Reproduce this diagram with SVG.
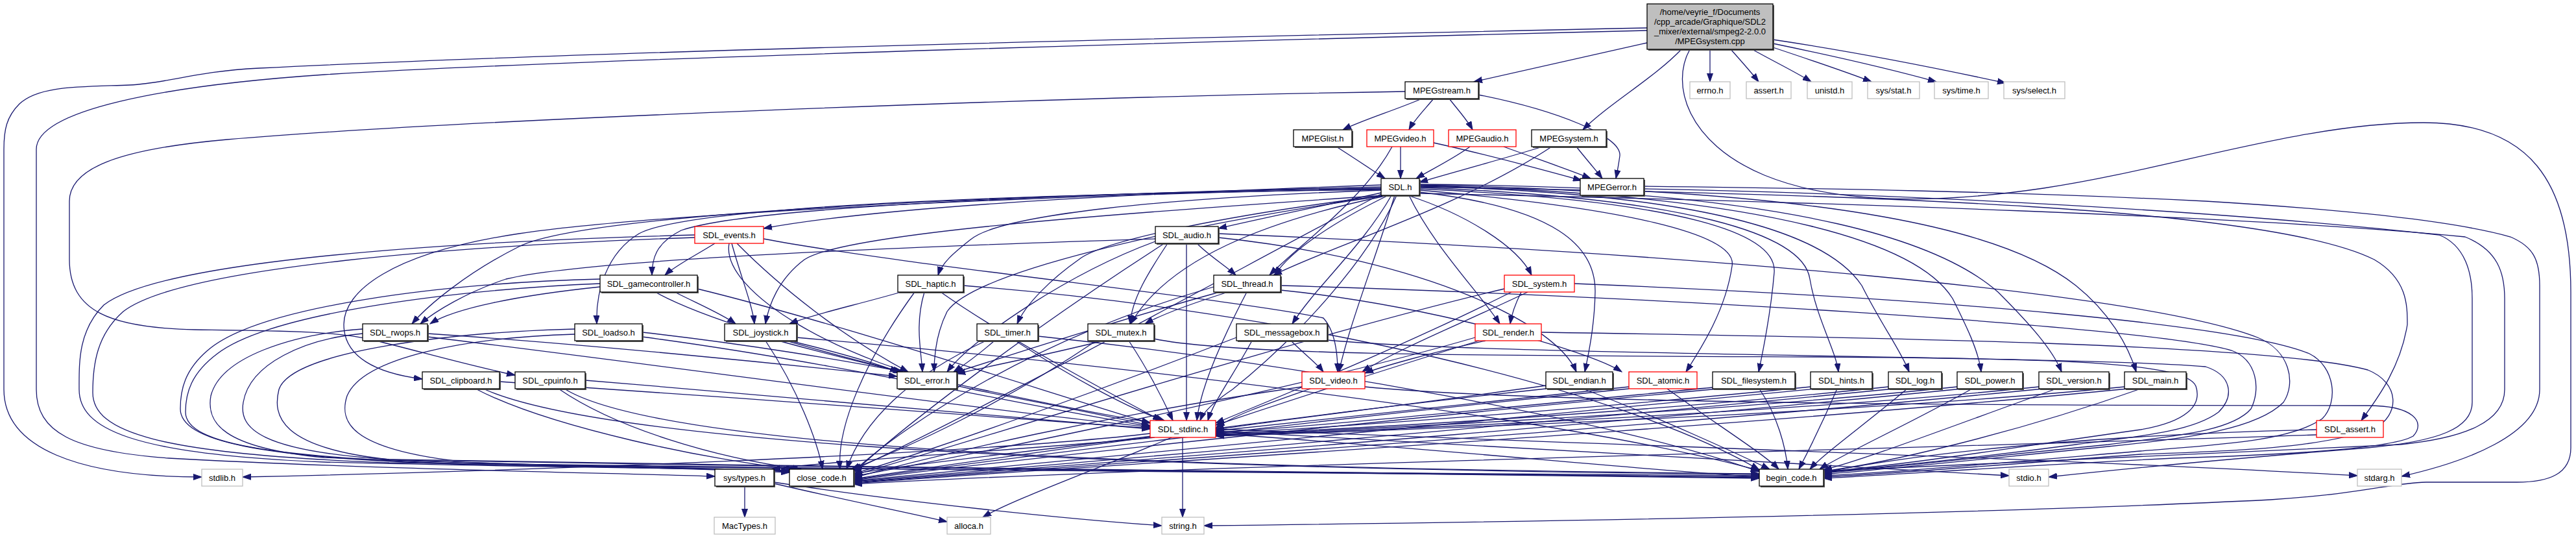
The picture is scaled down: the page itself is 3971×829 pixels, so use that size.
<svg xmlns="http://www.w3.org/2000/svg" width="3971" height="829" viewBox="0 0 3971 829">
<style>
text{font-family:"Liberation Sans",Arial,Helvetica,sans-serif;font-size:13px;text-anchor:middle;fill:#000}
.b{fill:#fff;stroke-width:1.3}
.k{stroke:#000}
.r{stroke:#ff0000}
.g{stroke:#bfbfbf}
.sh{fill:#555;stroke:none}
#edges path{fill:none;stroke:#191970;stroke-width:1.3;marker-end:url(#a)}
</style>
<defs>
<marker id="a" markerUnits="userSpaceOnUse" markerWidth="14" markerHeight="10" refX="13" refY="5" orient="auto"><path d="M0,0.5L13,5L0,9.5z" fill="#191970" stroke="#191970" stroke-width="1"/></marker>
</defs>
<rect width="3971" height="829" fill="#fff"/>
<g id="edges">
<path d="M2539,66 C2440,88 2340,110 2272,126"/>
<path d="M2592,76 C2550,120 2480,160 2440,200"/>
<path d="M2636,76 L2636,126"/>
<path d="M2668,76 C2685,95 2700,112 2711,126"/>
<path d="M2701,76 C2735,95 2770,112 2792,126"/>
<path d="M2733,73 C2790,92 2850,112 2885,126"/>
<path d="M2733,67 C2820,85 2920,108 2985,126"/>
<path d="M2733,61 C2860,80 3000,108 3092,128"/>
<path d="M2539,43 C2100,52 1000,75 400,105 C300,110 260,128 200,131 C120,134 60,132 30,160 C10,180 6,200 6,230 L6,600 C6,690 120,735 311,735"/>
<path d="M2539,47 C2000,60 900,90 500,115 C250,132 56,170 56,230 L56,600 C56,665 110,695 260,706 C550,722 900,728 1102,734"/>
<path d="M2605,76 C2575,130 2600,220 2720,270 C2830,315 2980,315 3150,290 C3350,260 3550,189 3736,189 C3900,189 3963,280 3963,450 L3963,690 C3963,730 3930,743 3880,743 L3740,743 C3680,745 3650,760 3500,770 C3000,795 2200,806 1856,810"/>
<path d="M2192,152 C2150,170 2100,185 2070,200"/>
<path d="M2210,152 C2195,170 2180,185 2172,200"/>
<path d="M2234,152 C2248,170 2262,185 2270,200"/>
<path d="M2279,146 C2400,170 2500,210 2497,240 C2495,255 2493,265 2491,275"/>
<path d="M2166,141 C1600,150 700,185 350,215 C180,230 107,260 107,310 L107,400 C107,480 170,505 300,508 C450,510 520,510 580,525 C660,545 730,565 794,578"/>
<path d="M2060,226 C2090,245 2115,262 2135,275"/>
<path d="M2159,226 L2159,275"/>
<path d="M2210,220 C2300,240 2380,262 2438,278"/>
<path d="M2146,226 C2100,310 2000,380 1957,424"/>
<path d="M2266,226 C2240,245 2205,262 2183,275"/>
<path d="M2318,226 C2370,245 2420,262 2452,275"/>
<path d="M2378,226 C2300,250 2230,268 2188,281"/>
<path d="M2392,226 C2250,320 2050,380 1963,424"/>
<path d="M2430,226 C2445,245 2460,262 2470,275"/>
<path d="M2534,287 C2800,290 3100,295 3400,310 C3650,325 3800,345 3870,365 C3905,380 3915,400 3915,440 L3915,600 C3915,670 3800,712 3702,734"/>
<path d="M2534,291 C2900,298 3400,322 3760,362 C3800,378 3811,420 3811,460 L3811,620 C3811,660 3760,680 3650,690 C3400,710 3250,725 3158,735"/>
<path d="M2129,285 C1700,300 1350,320 1177,352"/>
<path d="M2129,297 C2050,315 1950,335 1878,352"/>
<path d="M2129,288 C1600,300 1150,320 1050,355 C1010,375 1005,400 1005,424"/>
<path d="M2129,293 C1800,305 1540,330 1495,370 C1470,390 1452,405 1446,424"/>
<path d="M2140,301 C2060,340 1990,385 1965,424"/>
<path d="M2170,301 C2260,330 2340,380 2361,424"/>
<path d="M2129,290 C1500,300 900,330 800,380 C720,420 660,470 635,499"/>
<path d="M2129,292 C1500,300 1060,320 985,360 C935,390 918,450 920,499"/>
<path d="M2134,301 C1700,330 1300,360 1240,400 C1200,430 1185,470 1180,499"/>
<path d="M2136,301 C1900,330 1700,370 1663,400 C1620,430 1580,470 1568,499"/>
<path d="M2140,301 C1950,340 1800,400 1743,499"/>
<path d="M2145,301 C2100,380 2030,440 1992,499"/>
<path d="M2172,301 C2210,380 2280,450 2312,499"/>
<path d="M2129,291 C1600,300 1000,330 800,360 C600,390 530,450 530,500 C530,550 580,575 651,584"/>
<path d="M2138,301 C1800,350 1500,420 1460,480 C1445,510 1440,545 1440,573"/>
<path d="M2150,301 C2120,400 2080,500 2064,573"/>
<path d="M2188,296 C2400,320 2460,380 2459,450 C2458,500 2450,540 2443,573"/>
<path d="M2188,293 C2500,320 2680,360 2670,410 C2660,480 2620,540 2599,573"/>
<path d="M2188,291 C2600,310 2740,360 2735,420 C2730,480 2718,540 2711,573"/>
<path d="M2188,289 C2600,305 2780,360 2790,430 C2800,490 2830,540 2834,573"/>
<path d="M2188,287 C2700,300 2830,380 2870,440 C2900,500 2930,540 2943,573"/>
<path d="M2188,286 C2750,300 2960,380 3010,460 C3030,500 3050,540 3054,573"/>
<path d="M2188,285 C2800,295 3000,380 3080,450 C3130,500 3165,540 3178,573"/>
<path d="M2188,284 C2850,290 3100,360 3200,440 C3250,480 3280,530 3293,573"/>
<path d="M2188,288 C2900,300 3500,320 3660,400 C3711,430 3711,470 3711,500 C3700,570 3660,620 3640,648"/>
<path d="M2153,301 C2110,400 2000,520 1900,600 C1870,620 1855,635 1850,648"/>
<path d="M2188,298 C2800,310 3500,335 3800,365 C3850,385 3861,420 3861,460 L3861,600 C3861,650 3800,675 3700,685 C3300,705 2950,720 2811,726"/>
<path d="M2129,299 C1900,420 1500,640 1316,724"/>
<path d="M1102,375 C1070,395 1040,410 1025,424"/>
<path d="M1128,375 C1140,420 1160,470 1163,499"/>
<path d="M1136,375 C1200,440 1300,520 1400,573"/>
<path d="M1177,368 C1400,410 1900,460 2040,490 C2058,510 2062,545 2062,573"/>
<path d="M1124,375 C1110,450 1300,560 1500,600 C1650,630 1730,645 1773,656"/>
<path d="M1071,362 C700,372 250,400 160,470 C120,510 122,560 122,600 C122,660 200,700 500,712 C900,722 1150,722 1217,725"/>
<path d="M1071,366 C720,378 280,410 190,480 C150,515 143,560 143,605 C143,665 240,700 600,713 C1200,725 2300,728 2712,733"/>
<path d="M925,442 C800,455 700,475 663,499"/>
<path d="M1040,450 C1080,470 1115,485 1134,499"/>
<path d="M1010,450 C1100,500 1300,550 1390,573"/>
<path d="M1075,445 C1300,500 1600,600 1773,652"/>
<path d="M925,430 C700,435 400,470 320,540 C285,570 278,600 278,630 C278,680 400,705 700,715 C1000,722 1150,722 1217,727"/>
<path d="M925,437 C720,445 420,480 335,545 C295,575 286,605 286,635 C286,685 420,708 800,717 C1500,725 2300,730 2712,735"/>
<path d="M659,514 C900,530 1200,560 1383,580"/>
<path d="M659,519 C1000,560 1500,630 1773,658"/>
<path d="M559,507 C450,515 340,550 325,610 C318,650 340,690 500,705 C800,718 1100,720 1217,726"/>
<path d="M559,514 C470,522 385,560 375,620 C368,660 400,695 600,708 C1400,722 2400,730 2712,736"/>
<path d="M990,512 C1150,530 1300,555 1392,573"/>
<path d="M990,519 C1300,560 1600,630 1773,657"/>
<path d="M886,507 C700,512 450,540 430,600 C420,640 430,690 600,708 C900,720 1100,722 1217,728"/>
<path d="M886,515 C720,520 560,550 535,610 C522,650 540,690 700,710 C1500,725 2400,732 2712,737"/>
<path d="M770,588 C1100,610 1500,640 1773,660"/>
<path d="M733,599 C850,660 1100,710 1225,723"/>
<path d="M745,599 C900,670 1500,720 2712,731"/>
<path d="M902,586 C1200,610 1500,640 1773,661"/>
<path d="M861,599 C950,660 1100,705 1235,723"/>
<path d="M870,599 C1000,680 1600,720 2712,730"/>
<path d="M1217,525 C1300,545 1350,560 1385,573"/>
<path d="M1200,525 C1400,580 1650,630 1773,651"/>
<path d="M1180,525 C1230,600 1260,680 1268,723"/>
<path d="M1228,520 C1700,560 2400,640 2712,725"/>
<path d="M1389,450 C1320,470 1250,485 1217,499"/>
<path d="M1425,450 C1410,500 1420,540 1422,573"/>
<path d="M1450,450 C1550,520 1700,600 1790,648"/>
<path d="M1410,450 C1330,560 1290,660 1295,723"/>
<path d="M1485,440 C2000,480 2500,600 2712,724"/>
<path d="M1533,525 C1510,545 1490,560 1470,573"/>
<path d="M1565,525 C1650,580 1740,630 1795,648"/>
<path d="M1520,525 C1400,580 1330,650 1305,723"/>
<path d="M1600,518 C2000,560 2500,650 2712,727"/>
<path d="M1701,525 C1600,550 1520,565 1475,576"/>
<path d="M1740,525 C1770,570 1795,620 1808,648"/>
<path d="M1690,525 C1550,620 1400,690 1312,723"/>
<path d="M1779,522 C1900,548 2300,548 2800,550 C3200,552 3370,560 3385,595 C3395,625 3370,650 3300,662 C3100,690 2950,715 2811,727"/>
<path d="M1893,450 C1830,470 1790,485 1765,499"/>
<path d="M1880,450 C1700,500 1550,550 1472,574"/>
<path d="M1974,447 C2200,470 2450,540 2500,573"/>
<path d="M1922,450 C1880,530 1850,600 1845,648"/>
<path d="M1871,442 C1600,520 1400,650 1316,726"/>
<path d="M1974,440 C2500,455 3300,500 3440,540 C3480,555 3485,600 3470,630 C3440,665 3350,672 3250,685 C3050,705 2900,722 2811,729"/>
<path d="M1781,372 C1650,420 1500,520 1460,573"/>
<path d="M1878,366 C2200,400 2400,500 2430,573"/>
<path d="M1800,375 C1770,420 1745,460 1742,499"/>
<path d="M1845,375 C1865,395 1890,410 1905,424"/>
<path d="M1781,368 C1400,380 900,400 780,430 C720,450 670,480 648,499"/>
<path d="M1829,375 L1829,648"/>
<path d="M1795,375 C1600,500 1400,650 1316,728"/>
<path d="M1878,360 C2600,390 3300,450 3480,520 C3530,540 3540,590 3520,620 C3480,660 3380,675 3250,688 C3050,708 2900,724 2811,731"/>
<path d="M1990,525 C2010,545 2030,560 2040,573"/>
<path d="M1930,525 C1900,580 1870,620 1862,648"/>
<path d="M1906,520 C1700,600 1450,690 1316,730"/>
<path d="M2046,524 C2300,548 3200,548 3400,565 C3440,578 3445,610 3420,635 C3380,665 3300,672 3200,685 C3050,705 2900,720 2811,728"/>
<path d="M2345,450 C2335,470 2330,485 2328,499"/>
<path d="M2355,450 C2250,500 2150,540 2100,573"/>
<path d="M2330,450 C2150,540 1950,620 1874,652"/>
<path d="M2319,445 C2000,520 1500,680 1316,732"/>
<path d="M2427,437 C3000,460 3450,500 3560,545 C3600,565 3605,620 3580,645 C3530,680 3420,685 3300,695 C3100,712 2920,728 2811,733"/>
<path d="M2290,525 C2200,545 2130,565 2104,575"/>
<path d="M2280,525 C2100,580 1950,630 1874,655"/>
<path d="M2274,520 C2000,600 1500,700 1316,734"/>
<path d="M2376,512 C2900,520 3500,530 3650,570 C3700,590 3700,640 3660,660 C3580,690 3450,695 3300,700 C3100,715 2920,730 2811,735"/>
<path d="M2020,599 C1960,620 1900,640 1874,660"/>
<path d="M2007,596 C1700,640 1450,700 1316,736"/>
<path d="M2104,596 C2400,625 3300,625 3650,625 C3720,625 3740,650 3720,672 C3690,690 3550,700 3350,706 C3100,718 2920,732 2811,737"/>
<path d="M2383,594 C2200,620 1950,650 1874,662"/>
<path d="M2383,599 C2000,640 1500,710 1316,738"/>
<path d="M2440,599 C2550,640 2680,700 2728,723"/>
<path d="M2511,596 C2200,630 1950,655 1874,664"/>
<path d="M2511,599 C2000,650 1500,712 1316,739"/>
<path d="M2570,599 C2640,650 2720,700 2742,723"/>
<path d="M2640,597 C2300,630 2000,660 1874,666"/>
<path d="M2650,599 C2100,650 1500,715 1316,740"/>
<path d="M2712,599 C2740,640 2753,690 2756,723"/>
<path d="M2791,596 C2400,635 2000,662 1874,668"/>
<path d="M2800,599 C2200,655 1600,716 1316,741"/>
<path d="M2832,599 C2810,650 2785,700 2773,723"/>
<path d="M2911,596 C2500,640 2000,665 1874,669"/>
<path d="M2920,599 C2300,660 1600,718 1316,742"/>
<path d="M2940,599 C2880,650 2810,700 2790,723"/>
<path d="M3017,596 C2600,640 2000,666 1874,670"/>
<path d="M3025,599 C2400,662 1600,720 1316,743"/>
<path d="M3040,599 C2950,650 2840,700 2805,723"/>
<path d="M3143,596 C2700,642 2000,667 1874,671"/>
<path d="M3150,599 C2500,664 1600,721 1316,744"/>
<path d="M3170,599 C3000,660 2870,710 2811,724"/>
<path d="M3275,596 C2800,643 2000,668 1874,672"/>
<path d="M3280,599 C2600,666 1600,722 1316,745"/>
<path d="M3300,599 C3100,670 2900,715 2811,726"/>
<path d="M3571,662 C3300,668 3000,690 2811,728"/>
<path d="M3571,670 C3000,690 1800,718 1316,746"/>
<path d="M1773,668 C1500,700 800,726 374,735"/>
<path d="M1780,674 C1600,692 1300,708 1190,723"/>
<path d="M1775,672 C1600,695 1400,715 1316,730"/>
<path d="M1874,668 C2200,690 2550,726 2712,735"/>
<path d="M1874,664 C2400,690 2900,722 3097,733"/>
<path d="M1874,661 C2500,686 3200,708 3634,733"/>
<path d="M1823,674 L1823,797"/>
<path d="M1806,674 C1700,720 1560,770 1515,797"/>
<path d="M1148,749 L1148,797"/>
<path d="M1193,745 C1300,770 1400,790 1460,804"/>
<path d="M1193,743 C1400,775 1650,800 1791,810"/>
</g>
<g id="n_main"><rect class="sh" x="2541" y="8" width="194" height="70"/><rect class="b k" x="2539" y="6" width="194" height="70" style="fill:#bfbfbf"/><text x="2636" y="22.5">/home/veyrie_f/Documents</text><text x="2636" y="37.5">/cpp_arcade/Graphique/SDL2</text><text x="2636" y="52.5">_mixer/external/smpeg2-2.0.0</text><text x="2636" y="67.5">/MPEGsystem.cpp</text></g>
<g id="n_MPEGstream"><rect class="sh" x="2168" y="128" width="113" height="26"/><rect class="b k" x="2166" y="126" width="113" height="26"/><text x="2222.5" y="143.5">MPEGstream.h</text></g>
<g id="n_errno"><rect class="b g" x="2605" y="126" width="62" height="26"/><text x="2636" y="143.5">errno.h</text></g>
<g id="n_assert"><rect class="b g" x="2692" y="126" width="69" height="26"/><text x="2726.5" y="143.5">assert.h</text></g>
<g id="n_unistd"><rect class="b g" x="2786" y="126" width="69" height="26"/><text x="2820.5" y="143.5">unistd.h</text></g>
<g id="n_sysstat"><rect class="b g" x="2879" y="126" width="80" height="26"/><text x="2919" y="143.5">sys/stat.h</text></g>
<g id="n_systime"><rect class="b g" x="2982" y="126" width="83" height="26"/><text x="3023.5" y="143.5">sys/time.h</text></g>
<g id="n_sysselect"><rect class="b g" x="3089" y="126" width="94" height="26"/><text x="3136" y="143.5">sys/select.h</text></g>
<g id="n_MPEGlist"><rect class="sh" x="1996" y="202" width="90" height="26"/><rect class="b k" x="1994" y="200" width="90" height="26"/><text x="2039" y="217.5">MPEGlist.h</text></g>
<g id="n_MPEGvideo"><rect class="b r" x="2107" y="200" width="103" height="26"/><text x="2158.5" y="217.5">MPEGvideo.h</text></g>
<g id="n_MPEGaudio"><rect class="b r" x="2233" y="200" width="104" height="26"/><text x="2285" y="217.5">MPEGaudio.h</text></g>
<g id="n_MPEGsystem"><rect class="sh" x="2363" y="202" width="115" height="26"/><rect class="b k" x="2361" y="200" width="115" height="26"/><text x="2418.5" y="217.5">MPEGsystem.h</text></g>
<g id="n_SDL"><rect class="sh" x="2131" y="277" width="59" height="26"/><rect class="b k" x="2129" y="275" width="59" height="26"/><text x="2158.5" y="292.5">SDL.h</text></g>
<g id="n_MPEGerror"><rect class="sh" x="2438" y="277" width="98" height="26"/><rect class="b k" x="2436" y="275" width="98" height="26"/><text x="2485" y="292.5">MPEGerror.h</text></g>
<g id="n_events"><rect class="b r" x="1071" y="349" width="106" height="26"/><text x="1124" y="366.5">SDL_events.h</text></g>
<g id="n_audio"><rect class="sh" x="1783" y="351" width="97" height="26"/><rect class="b k" x="1781" y="349" width="97" height="26"/><text x="1829.5" y="366.5">SDL_audio.h</text></g>
<g id="n_gamecontroller"><rect class="sh" x="927" y="426" width="150" height="26"/><rect class="b k" x="925" y="424" width="150" height="26"/><text x="1000" y="441.5">SDL_gamecontroller.h</text></g>
<g id="n_haptic"><rect class="sh" x="1386" y="426" width="101" height="26"/><rect class="b k" x="1384" y="424" width="101" height="26"/><text x="1434.5" y="441.5">SDL_haptic.h</text></g>
<g id="n_thread"><rect class="sh" x="1873" y="426" width="103" height="26"/><rect class="b k" x="1871" y="424" width="103" height="26"/><text x="1922.5" y="441.5">SDL_thread.h</text></g>
<g id="n_system"><rect class="b r" x="2319" y="424" width="108" height="26"/><text x="2373" y="441.5">SDL_system.h</text></g>
<g id="n_rwops"><rect class="sh" x="561" y="501" width="100" height="26"/><rect class="b k" x="559" y="499" width="100" height="26"/><text x="609" y="516.5">SDL_rwops.h</text></g>
<g id="n_loadso"><rect class="sh" x="888" y="501" width="104" height="26"/><rect class="b k" x="886" y="499" width="104" height="26"/><text x="938" y="516.5">SDL_loadso.h</text></g>
<g id="n_joystick"><rect class="sh" x="1119" y="501" width="111" height="26"/><rect class="b k" x="1117" y="499" width="111" height="26"/><text x="1172.5" y="516.5">SDL_joystick.h</text></g>
<g id="n_timer"><rect class="sh" x="1508" y="501" width="94" height="26"/><rect class="b k" x="1506" y="499" width="94" height="26"/><text x="1553" y="516.5">SDL_timer.h</text></g>
<g id="n_mutex"><rect class="sh" x="1679" y="501" width="102" height="26"/><rect class="b k" x="1677" y="499" width="102" height="26"/><text x="1728" y="516.5">SDL_mutex.h</text></g>
<g id="n_messagebox"><rect class="sh" x="1908" y="501" width="140" height="26"/><rect class="b k" x="1906" y="499" width="140" height="26"/><text x="1976" y="516.5">SDL_messagebox.h</text></g>
<g id="n_render"><rect class="b r" x="2274" y="499" width="102" height="26"/><text x="2325" y="516.5">SDL_render.h</text></g>
<g id="n_clipboard"><rect class="sh" x="653" y="575" width="119" height="26"/><rect class="b k" x="651" y="573" width="119" height="26"/><text x="710.5" y="590.5">SDL_clipboard.h</text></g>
<g id="n_cpuinfo"><rect class="sh" x="796" y="575" width="108" height="26"/><rect class="b k" x="794" y="573" width="108" height="26"/><text x="848" y="590.5">SDL_cpuinfo.h</text></g>
<g id="n_error"><rect class="sh" x="1385" y="575" width="92" height="26"/><rect class="b k" x="1383" y="573" width="92" height="26"/><text x="1429" y="590.5">SDL_error.h</text></g>
<g id="n_video"><rect class="b r" x="2007" y="573" width="97" height="26"/><text x="2055.5" y="590.5">SDL_video.h</text></g>
<g id="n_endian"><rect class="sh" x="2385" y="575" width="103" height="26"/><rect class="b k" x="2383" y="573" width="103" height="26"/><text x="2434.5" y="590.5">SDL_endian.h</text></g>
<g id="n_atomic"><rect class="b r" x="2511" y="573" width="105" height="26"/><text x="2563.5" y="590.5">SDL_atomic.h</text></g>
<g id="n_filesystem"><rect class="sh" x="2642" y="575" width="127" height="26"/><rect class="b k" x="2640" y="573" width="127" height="26"/><text x="2703.5" y="590.5">SDL_filesystem.h</text></g>
<g id="n_hints"><rect class="sh" x="2793" y="575" width="95" height="26"/><rect class="b k" x="2791" y="573" width="95" height="26"/><text x="2838.5" y="590.5">SDL_hints.h</text></g>
<g id="n_log"><rect class="sh" x="2913" y="575" width="82" height="26"/><rect class="b k" x="2911" y="573" width="82" height="26"/><text x="2952" y="590.5">SDL_log.h</text></g>
<g id="n_power"><rect class="sh" x="3019" y="575" width="101" height="26"/><rect class="b k" x="3017" y="573" width="101" height="26"/><text x="3067.5" y="590.5">SDL_power.h</text></g>
<g id="n_version"><rect class="sh" x="3145" y="575" width="108" height="26"/><rect class="b k" x="3143" y="573" width="108" height="26"/><text x="3197" y="590.5">SDL_version.h</text></g>
<g id="n_main_h"><rect class="sh" x="3277" y="575" width="95" height="26"/><rect class="b k" x="3275" y="573" width="95" height="26"/><text x="3322.5" y="590.5">SDL_main.h</text></g>
<g id="n_stdinc"><rect class="b r" x="1773" y="648" width="101" height="26"/><text x="1823.5" y="665.5">SDL_stdinc.h</text></g>
<g id="n_assert_h"><rect class="b r" x="3571" y="648" width="103" height="26"/><text x="3622.5" y="665.5">SDL_assert.h</text></g>
<g id="n_stdlib"><rect class="b g" x="311" y="723" width="63" height="26"/><text x="342.5" y="740.5">stdlib.h</text></g>
<g id="n_systypes"><rect class="sh" x="1104" y="725" width="91" height="26"/><rect class="b k" x="1102" y="723" width="91" height="26"/><text x="1147.5" y="740.5">sys/types.h</text></g>
<g id="n_close_code"><rect class="sh" x="1219" y="725" width="99" height="26"/><rect class="b k" x="1217" y="723" width="99" height="26"/><text x="1266.5" y="740.5">close_code.h</text></g>
<g id="n_begin_code"><rect class="sh" x="2714" y="725" width="99" height="26"/><rect class="b k" x="2712" y="723" width="99" height="26"/><text x="2761.5" y="740.5">begin_code.h</text></g>
<g id="n_stdio"><rect class="b g" x="3097" y="723" width="61" height="26"/><text x="3127.5" y="740.5">stdio.h</text></g>
<g id="n_stdarg"><rect class="b g" x="3634" y="723" width="68" height="26"/><text x="3668" y="740.5">stdarg.h</text></g>
<g id="n_MacTypes"><rect class="b g" x="1101" y="797" width="94" height="26"/><text x="1148" y="814.5">MacTypes.h</text></g>
<g id="n_alloca"><rect class="b g" x="1460" y="797" width="67" height="26"/><text x="1493.5" y="814.5">alloca.h</text></g>
<g id="n_string"><rect class="b g" x="1791" y="797" width="65" height="26"/><text x="1823.5" y="814.5">string.h</text></g>
</svg>
